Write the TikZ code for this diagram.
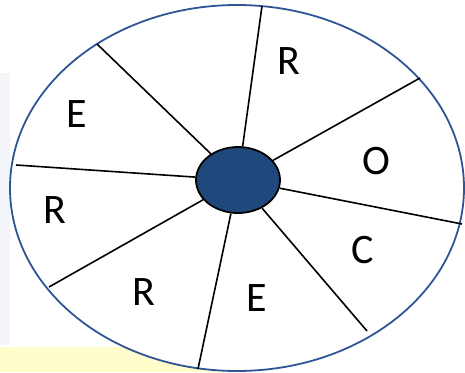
\documentclass[tikz,border=0pt]{standalone}
\usepackage{fontspec}
\setmainfont{Carlito}
\usetikzlibrary{shapes.geometric}
\definecolor{rimblue}{RGB}{47,85,151}
\definecolor{hubblue}{RGB}{31,73,125}
\definecolor{stripgray}{RGB}{243,245,248}
\definecolor{bandyellow}{RGB}{255,253,204}

\begin{document}
\begin{tikzpicture}[x=1pt, y=-1pt,
    rim/.style={ellipse, draw=rimblue, line width=1.8pt, fill=white,
      minimum width=454pt, minimum height=366pt, inner sep=0pt},
    hub/.style={ellipse, draw=black, line width=1.8pt, fill=hubblue,
      minimum width=84pt, minimum height=66pt, inner sep=0pt},
    spoke/.style={draw=black, line width=1.6pt},
    letter/.style={inner sep=0pt, font=\fontsize{42}{48}\selectfont}]
  \useasboundingbox (0,0) rectangle (465,372);
  % page bits behind the wheel
  \fill[stripgray] (0,73) rectangle (10,345);
  \fill[bandyellow] (0,347) rectangle (250,372);
  % wheel and hub
  \node[rim] (wheel) at (237,188) {};
  \node[hub] (hub) at (238,180) {};
  % rim ends of the eight spokes, clockwise from the top
  \coordinate (s1) at (262,6);
  \coordinate (s2) at (420,78);
  \coordinate (s3) at (462,224);
  \coordinate (s4) at (367,331);
  \coordinate (s5) at (198,369);
  \coordinate (s6) at (49,287);
  \coordinate (s7) at (16,165);
  \coordinate (s8) at (97,44);
  \foreach \i in {1,...,8}
    \draw[spoke] (hub) -- (s\i);
  % letters in the segments
  \node[letter] (r1) at (289,61) {R};
  \node[letter] (o1) at (376,161) {O};
  \node[letter] (c1) at (363,250) {C};
  \node[letter] (e1) at (257,298) {E};
  \node[letter] (r2) at (144,292) {R};
  \node[letter] (r3) at (55,210) {R};
  \node[letter] (e2) at (77,114) {E};
\end{tikzpicture}
\end{document}
